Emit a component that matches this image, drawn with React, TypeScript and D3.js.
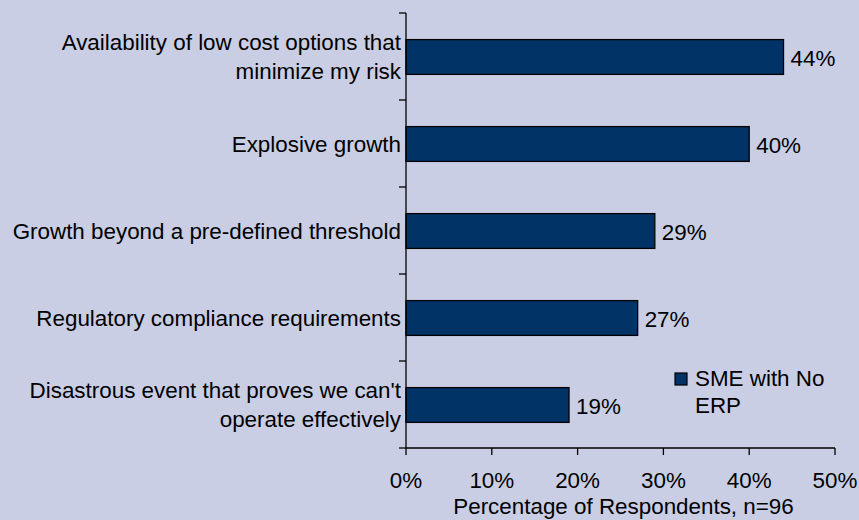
import React from "react";
import * as d3 from "d3";

const categories = [
  "Availability of low cost options that minimize my risk",
  "Explosive growth",
  "Growth beyond a pre-defined threshold",
  "Regulatory compliance requirements",
  "Disastrous event that proves we can't operate effectively",
];
const labelLines = [
  ["Availability of low cost options that", "minimize my risk"],
  ["Explosive growth"],
  ["Growth beyond a pre-defined threshold"],
  ["Regulatory compliance requirements"],
  ["Disastrous event that proves we can't", "operate effectively"],
];
const values = [44, 40, 29, 27, 19];
const xTicks = [0, 10, 20, 30, 40, 50];
const seriesName = ["SME with No", "ERP"];
const axisTitle = "Percentage of Respondents, n=96";

const W = 859;
const H = 520;
const BG = "#C9CEE4";
const BAR = "#023366";
const FONT = "'Liberation Sans', Arial, Helvetica, sans-serif";
const FS = 22.4;

export default function App() {
  const x = d3.scaleLinear().domain([0, 50]).range([406, 835]);
  const y = d3
    .scaleBand<string>()
    .domain(categories)
    .range([13, 448])
    .paddingInner(0.6)
    .paddingOuter(0.3);
  const step = y.step();
  const y0 = y.range()[0];
  const yEnd = y.range()[1];
  const boundaries = d3.range(categories.length + 1).map((i) => y0 + i * step);
  const axisX = x(0);

  return (
    <svg
      width={W}
      height={H}
      style={{ position: "absolute", left: 0, top: 0 }}
      fontFamily={FONT}
    >
      <rect x={0} y={0} width={W} height={H} fill={BG} />
      {/* bars */}
      {categories.map((c, i) => (
        <rect
          key={c}
          x={x(0)}
          y={(y(c) as number) + 0.5}
          width={x(values[i]) - x(0)}
          height={y.bandwidth()}
          fill={BAR}
          stroke="#000"
          strokeWidth={1.3}
        />
      ))}
      {/* value labels */}
      {categories.map((c, i) => (
        <text
          key={c + "v"}
          x={x(values[i]) + 7}
          y={(y(c) as number) + y.bandwidth() / 2 + 9}
          fontSize={FS}
          fill="#000"
        >
          {values[i]}%
        </text>
      ))}
      {/* y axis */}
      <line x1={axisX} x2={axisX} y1={y0} y2={yEnd} stroke="#000" strokeWidth={1.3} />
      {boundaries.map((b, i) => (
        <line key={"yt" + i} x1={axisX - 7} x2={axisX} y1={b} y2={b} stroke="#000" strokeWidth={1.3} />
      ))}
      {/* category labels */}
      {categories.map((c, i) => {
        const cy = (y(c) as number) + y.bandwidth() / 2;
        const lines = labelLines[i];
        const lh = 28.5;
        return lines.map((ln, j) => (
          <text
            key={c + j}
            x={401}
            y={cy + 8 + (j - (lines.length - 1) / 2) * lh}
            textAnchor="end"
            fontSize={FS}
            fill="#000"
          >
            {ln}
          </text>
        ));
      })}
      {/* x axis */}
      <line x1={x(0)} x2={x(50)} y1={yEnd} y2={yEnd} stroke="#000" strokeWidth={1.3} />
      {xTicks.map((t) => (
        <g key={"xt" + t}>
          <line x1={x(t)} x2={x(t)} y1={yEnd} y2={yEnd + 7} stroke="#000" strokeWidth={1.3} />
          <text x={x(t)} y={488} textAnchor="middle" fontSize={FS} fill="#000">
            {t}%
          </text>
        </g>
      ))}
      <text x={(x(0) + x(50)) / 2 + 3} y={514} textAnchor="middle" fontSize={FS} fill="#000">
        {axisTitle}
      </text>
      {/* legend */}
      <rect x={675} y={373} width={12} height={12} fill={BAR} stroke="#000" strokeWidth={1.2} />
      {seriesName.map((s, j) => (
        <text key={s} x={695} y={385.5 + j * 27.5} fontSize={FS} fill="#000">
          {s}
        </text>
      ))}
    </svg>
  );
}
